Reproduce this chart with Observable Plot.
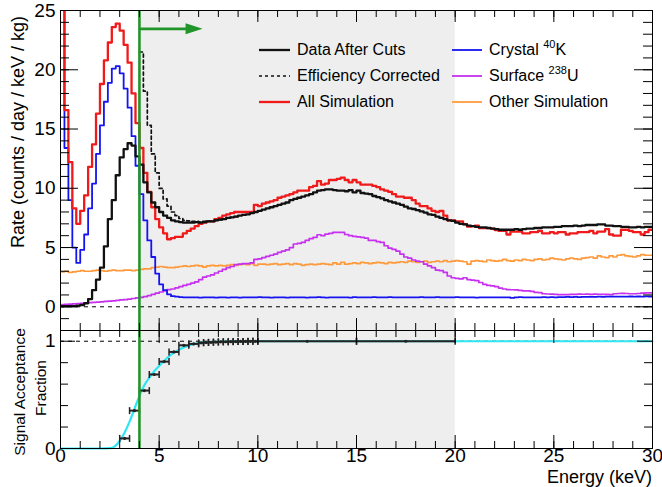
<!DOCTYPE html>
<html><head><meta charset="utf-8">
<script src="https://cdn.jsdelivr.net/npm/d3@7"></script>
<script src="https://cdn.jsdelivr.net/npm/@observablehq/plot@0.6"></script>
<style>
body{margin:0;background:#fff;font-family:"Liberation Sans",Arial,sans-serif;}
#wrap{position:relative;width:662px;height:487px;overflow:hidden;}
#wrap svg{display:block;}
.ov{position:absolute;color:#000;white-space:nowrap;line-height:1;}
.leg{position:absolute;display:flex;align-items:center;height:20px;font-size:16px;white-space:nowrap;}
.leg svg{margin-right:7px;}
.leg sup{font-size:11px;position:relative;top:-1px;vertical-align:super;line-height:0;}
.rot{transform:translate(-50%,-50%) rotate(-90deg);}
</style></head><body><div id="wrap"></div><script>
// ---------- data ----------
const binWidth = 0.2;            // keV per histogram bin (150 bins over 0-30 keV)
const energyRange = [0, 30];
const cutEnergy = 4;
const roiRange = [4, 20];
const rateDomain = [-2, 25];
const fracDomain = [0, 1.1];

const allSimulation = [
 40, 16.6, 12.2, 8.3, 7.0, 8.1, 9.4, 11.8, 13.7, 16.3,
 18.8, 20.8, 22.3, 23.6, 23.9, 23.3, 22.1, 20.6, 18.0, 15.5,
 13.4, 11.3, 9.7, 8.4, 7.4, 6.7, 6.2, 5.7, 5.8, 5.9,
 5.9, 6.2, 6.4, 6.6, 6.8, 7.0, 7.1, 7.2, 7.2, 7.4,
 7.5, 7.7, 7.8, 7.9, 8.0, 8.0, 8.0, 8.0, 8.0, 8.6,
 8.5, 8.7, 8.8, 8.9, 9.0, 9.2, 9.3, 9.4, 9.5, 9.65,
 9.8, 9.8, 9.8, 10.1, 10.2, 10.6, 10.3, 10.4, 10.7, 10.7,
 10.8, 10.9, 10.7, 10.5, 10.7, 10.5, 10.3, 10.3, 10.3, 10.2,
 10.1, 9.9, 9.8, 9.7, 9.5, 9.3, 9.3, 9.2, 9.2, 9.0,
 8.7, 8.5, 8.5, 8.3, 8.1, 8.0, 8.1, 7.7, 7.3, 7.3,
 7.2, 7.2, 6.98, 6.76, 6.8, 6.84, 6.64, 6.64, 6.64, 6.6,
 6.47, 6.4, 6.4, 6.1, 6.35, 6.35, 6.35, 6.2, 6.2, 6.3,
 6.3, 6.4, 6.2, 6.2, 6.3, 6.2, 6.3, 6.3, 6.1, 6.2,
 6.2, 6.3, 6.3, 6.3, 6.4, 6.2, 6.35, 6.35, 6.56, 6.1,
 6.0, 6.0, 6.5, 6.5, 6.4, 6.3, 6.3, 6.1, 6.3, 6.5
];
const dataAfterCuts = [
 0.05, 0.05, 0.05, 0.05, 0.1, 0.15, 0.3, 0.65, 1.4, 2.3,
 3.3, 5.1, 7.4, 9.0, 11.1, 12.6, 13.3, 13.8, 13.6, 12.7,
 12.0, 10.5, 9.65, 8.8, 8.4, 8.0, 7.7, 7.5, 7.3, 7.2,
 7.15, 7.1, 7.1, 7.1, 7.15, 7.1, 7.15, 7.2, 7.2, 7.3,
 7.35, 7.4, 7.5, 7.55, 7.6, 7.7, 7.75, 7.8, 7.9, 8.0,
 8.1, 8.2, 8.3, 8.4, 8.5, 8.6, 8.7, 8.8, 9.0, 9.1,
 9.2, 9.3, 9.4, 9.5, 9.65, 9.8, 9.85, 9.9, 9.9, 9.85,
 9.8, 9.8, 9.75, 9.85, 9.65, 9.8, 9.6, 9.55, 9.5, 9.35,
 9.25, 9.15, 9.0, 8.9, 8.8, 8.7, 8.6, 8.45, 8.3, 8.25,
 8.15, 8.05, 7.95, 7.8, 7.75, 7.6, 7.5, 7.4, 7.3, 7.25,
 7.1, 7.0, 6.95, 6.85, 6.8, 6.75, 6.7, 6.7, 6.65, 6.6,
 6.55, 6.5, 6.5, 6.5, 6.5, 6.55, 6.5, 6.55, 6.6, 6.6,
 6.65, 6.65, 6.7, 6.7, 6.7, 6.75, 6.75, 6.8, 6.8, 6.8,
 6.85, 6.8, 6.85, 6.9, 6.9, 6.9, 6.95, 6.95, 6.85, 6.85,
 6.8, 6.8, 6.75, 6.75, 6.7, 6.7, 6.75, 6.7, 6.75, 6.75
];
const effCorrectedStartBin = 20;
const efficiencyCorrected = [
 21.5, 18.2, 15.3, 12.9, 11.3, 10.0, 9.1, 8.5, 8.0, 7.7,
 7.45, 7.3, 7.25, 7.2, 7.2, 7.15, 7.2, 7.22, 7.22, 7.3,
 7.35, 7.4, 7.5, 7.55, 7.6
];
const crystalK40 = [
 40, 13.4, 9.0, 5.0, 3.7, 4.8, 6.1, 8.3, 10.4, 12.9,
 15.3, 17.3, 18.9, 20.1, 20.3, 19.7, 18.4, 16.8, 14.4, 11.9,
 9.5, 7.3, 5.6, 4.2, 2.8, 1.9, 1.4, 1.05, 0.9, 0.85,
 0.82, 0.8, 0.8, 0.79, 0.8, 0.78, 0.8, 0.79, 0.8, 0.78,
 0.79, 0.8, 0.78, 0.8, 0.79, 0.78, 0.8, 0.8, 0.79, 0.8,
 0.81, 0.79, 0.8, 0.78, 0.79, 0.8, 0.8, 0.78, 0.79, 0.8,
 0.79, 0.8, 0.78, 0.79, 0.8, 0.81, 0.79, 0.78, 0.8, 0.8,
 0.79, 0.8, 0.8, 0.78, 0.81, 0.8, 0.79, 0.8, 0.8, 0.82,
 0.8, 0.79, 0.8, 0.81, 0.8, 0.79, 0.8, 0.8, 0.79, 0.8,
 0.8, 0.82, 0.8, 0.79, 0.8, 0.81, 0.8, 0.79, 0.8, 0.8,
 0.81, 0.8, 0.79, 0.8, 0.8, 0.78, 0.8, 0.79, 0.8, 0.8,
 0.79, 0.8, 0.8, 0.79, 0.75, 0.8, 0.81, 0.8, 0.8, 0.79,
 0.8, 0.8, 0.81, 0.8, 0.82, 0.8, 0.81, 0.82, 0.83, 0.82,
 0.83, 0.82, 0.83, 0.84, 0.83, 0.84, 0.85, 0.84, 0.85, 0.86,
 0.85, 0.86, 0.85, 0.86, 0.87, 0.86, 0.87, 0.86, 0.88, 0.87
];
const surfaceU238 = [
 0.18, 0.2, 0.22, 0.25, 0.27, 0.3, 0.32, 0.35, 0.38, 0.4,
 0.42, 0.45, 0.48, 0.5, 0.55, 0.58, 0.6, 0.65, 0.7, 0.75,
 0.8, 0.85, 0.95, 1.05, 1.15, 1.25, 1.35, 1.45, 1.5, 1.6,
 1.7, 1.8, 1.9, 2.0, 2.1, 2.3, 2.5, 2.6, 2.7, 2.85,
 3.0, 3.15, 3.3, 3.4, 3.55, 3.6, 3.65, 3.65, 3.7, 4.0,
 4.05, 4.15, 4.25, 4.35, 4.45, 4.6, 4.7, 4.8, 5.0, 5.3,
 5.35, 5.43, 5.6, 5.75, 5.86, 6.08, 6.0, 6.14, 6.2, 6.28,
 6.28, 6.28, 6.1, 6.0, 5.95, 5.9, 5.86, 5.8, 5.6, 5.6,
 5.5, 5.43, 5.15, 4.95, 4.85, 4.7, 4.45, 4.2, 4.1, 3.95,
 3.85, 3.8, 3.6, 3.45, 3.3, 3.1, 3.05, 2.9, 2.6, 2.45,
 2.4, 2.35, 2.45, 2.3, 2.25, 2.2, 2.05, 1.9, 1.8, 1.77,
 1.7, 1.58, 1.5, 1.45, 1.44, 1.42, 1.38, 1.35, 1.35, 1.3,
 1.22, 1.2, 1.1, 1.08, 1.07, 1.05, 1.02, 1.02, 1.03, 1.05,
 1.05, 1.07, 1.06, 1.07, 1.05, 1.07, 1.06, 1.05, 1.04, 1.03,
 1.1, 1.12, 1.13, 1.12, 1.1, 1.1, 1.12, 1.15, 1.17, 1.18
];
const otherSimulation = [
 2.95, 3.0, 2.9, 2.95, 3.0, 3.05, 3.0, 3.0, 3.05, 3.1,
 3.05, 3.0, 3.05, 3.1, 3.05, 3.05, 3.1, 3.1, 3.05, 3.1,
 3.15, 3.2, 3.2, 3.3, 3.35, 3.4, 3.35, 3.3, 3.3, 3.35,
 3.4, 3.45, 3.4, 3.45, 3.5, 3.45, 3.35, 3.45, 3.5, 3.45,
 3.5, 3.45, 3.5, 3.55, 3.5, 3.55, 3.6, 3.55, 3.65, 3.5,
 3.6, 3.6, 3.55, 3.6, 3.65, 3.55, 3.6, 3.65, 3.55, 3.65,
 3.6, 3.5, 3.55, 3.6, 3.55, 3.6, 3.65, 3.6, 3.55, 3.7,
 3.6, 3.75, 3.6, 3.65, 3.7, 3.65, 3.75, 3.7, 3.65, 3.7,
 3.75, 3.7, 3.65, 3.75, 3.7, 3.75, 3.8, 3.75, 3.85, 3.8,
 3.75, 3.8, 3.85, 3.75, 3.8, 3.85, 3.8, 3.9, 3.8, 3.85,
 3.9, 3.85, 3.8, 3.6, 3.85, 3.9, 3.85, 3.8, 3.95, 3.9,
 3.85, 3.9, 4.0, 3.9, 3.85, 3.95, 3.9, 4.0, 3.95, 3.9,
 4.0, 4.05, 3.95, 4.0, 4.1, 4.05, 4.0, 3.95, 4.05, 4.1,
 4.05, 4.0, 4.1, 4.15, 4.2, 4.1, 4.3, 4.2, 4.15, 4.3,
 4.2, 4.35, 4.4, 4.3, 4.25, 4.2, 4.3, 4.4, 4.35, 4.35
];

// signal acceptance points (bin low edge, bin high edge, fraction)
const accLow   = [3, 3.5, 4, 4.5, 5, 5.5, 6, 6.5, 7, 7.25, 7.5, 7.75, 8, 8.25, 8.5, 8.75, 9, 9.25, 9.5, 9.75, 10, 15];
const accHigh  = [3.5, 4, 4.5, 5, 5.5, 6, 6.5, 7, 7.25, 7.5, 7.75, 8, 8.25, 8.5, 8.75, 9, 9.25, 9.5, 9.75, 10, 15, 20];
const accValue = [0.094, 0.353, 0.54, 0.69, 0.81, 0.90, 0.962, 0.975, 0.985, 0.988, 0.99, 0.992, 0.994, 0.995, 0.996, 0.997, 0.998, 0.998, 0.999, 0.999, 1.0, 1.0];
// fitted acceptance curve
const fitEnergy = [0, 2.0, 2.5, 2.75, 3.0, 3.25, 3.5, 3.75, 4.0, 4.25, 4.5, 4.75, 5.0, 5.5, 6.0, 6.5, 7.0, 8.0, 9.0, 10, 30];
const fitValue  = [0, 0, 0.003, 0.02, 0.07, 0.15, 0.25, 0.37, 0.49, 0.59, 0.66, 0.72, 0.77, 0.86, 0.92, 0.96, 0.984, 0.996, 1.0, 1.0, 1.0];

const rateTicksMajor = [0, 5, 10, 15, 20, 25];
const rateTicksMinor = d3.range(-2, 26);
const energyTicksMajor = [0, 5, 10, 15, 20, 25, 30];
const energyTicksMinor = d3.range(0, 31);
const fracTicksMajor = [0, 1];
const fracTicksMinor = [0.2, 0.4, 0.6, 0.8];
const cutArrow = {from: 4, to: 7.2, y: 23.45};

// ---------- drawing ----------
const W = 662, ML = 60, MR = 10;
const TOP_H = 330, TOP_MT = 10;
const BOT_H = 157, BOT_MB = 39;
const PW = W - ML - MR, TPH = TOP_H - TOP_MT, BPH = BOT_H - BOT_MB;
const C = {red: "#f01a1a", black: "#111111", blue: "#1414f0", mag: "#c630ee", orange: "#ff9a3c", green: "#22952a", cyan: "#2ee6f2", shade: "#eeeeee"};
const font = "'Liberation Sans', Arial, Helvetica, sans-serif";

function steps(values, startBin = 0) {
  const pts = values.map((v, i) => ({e: (startBin + i) * binWidth, v}));
  pts.push({e: (startBin + values.length) * binWidth, v: values[values.length - 1]});
  return pts;
}
const hist = (vals, stroke, w, extra = {}, start = 0) =>
  Plot.line(steps(vals, start), {x: "e", y: "v", curve: "step-after", stroke, strokeWidth: w, clip: true, ...extra});

function frameTicks(ph, xMin, xMaj, xMinLen, xMajLen, yMin, yMaj, yMinLen, yMajLen) {
  const s = {stroke: "#000", strokeWidth: 1};
  return [
    Plot.ruleX(xMin, {...s, insetTop: ph - xMinLen}),
    Plot.ruleX(xMin, {...s, insetBottom: ph - xMinLen}),
    Plot.ruleX(xMaj, {...s, insetTop: ph - xMajLen}),
    Plot.ruleX(xMaj, {...s, insetBottom: ph - xMajLen}),
    Plot.ruleY(yMin, {...s, insetRight: PW - yMinLen}),
    Plot.ruleY(yMin, {...s, insetLeft: PW - yMinLen}),
    Plot.ruleY(yMaj, {...s, insetRight: PW - yMajLen}),
    Plot.ruleY(yMaj, {...s, insetLeft: PW - yMajLen})
  ];
}

const arrowHead = {draw(ctx) { ctx.moveTo(0, 0); ctx.lineTo(-17, -5.5); ctx.lineTo(-17, 5.5); ctx.closePath(); }};
const capBar = {draw(ctx) { ctx.moveTo(0, -3.5); ctx.lineTo(0, 3.5); }};
const plainNum = d => String(d);

const topPlot = Plot.plot({
  width: W, height: TOP_H, marginLeft: ML, marginRight: MR, marginTop: TOP_MT, marginBottom: 0,
  style: {fontFamily: font, fontSize: "19px", color: "#000", background: "transparent", overflow: "visible"},
  x: {domain: energyRange, axis: null},
  y: {domain: rateDomain, ticks: rateTicksMajor, tickFormat: plainNum, tickSize: 0, tickPadding: 5, label: null},
  marks: [
    Plot.rect([roiRange], {x1: d => d[0], x2: d => d[1], fill: C.shade}),
    Plot.ruleY([0], {stroke: "#000", strokeWidth: 1, strokeDasharray: "4,4"}),
    hist(otherSimulation, C.orange, 1.7),
    hist(surfaceU238, C.mag, 1.7),
    hist(crystalK40, C.blue, 1.8),
    hist(allSimulation, C.red, 2.3),
    hist(dataAfterCuts, C.black, 2.3),
    hist(efficiencyCorrected, C.black, 1.7, {strokeDasharray: "3,3"}, effCorrectedStartBin),
    Plot.ruleX([cutEnergy], {stroke: C.green, strokeWidth: 2.6}),
    Plot.link([cutArrow], {x1: "from", x2: d => d.to - 0.5, y1: "y", y2: "y", stroke: C.green, strokeWidth: 2.6}),
    Plot.dot([cutArrow], {x: "to", y: "y", symbol: arrowHead, r: 6, fill: C.green, stroke: "none"}),
    ...frameTicks(TPH, energyTicksMinor, energyTicksMajor, 7, 12, rateTicksMinor, rateTicksMajor, 9, 18),
    Plot.frame({stroke: "#000", strokeWidth: 1})
  ]
});

const accPts = accLow.map((lo, i) => ({lo, hi: accHigh[i], v: accValue[i], c: (lo + accHigh[i]) / 2}));
const capPts = accPts.flatMap(d => [{x: d.lo, v: d.v}, {x: d.hi, v: d.v}]);
const fitPts = fitEnergy.map((e, i) => ({e, v: fitValue[i]}));

const botPlot = Plot.plot({
  width: W, height: BOT_H, marginLeft: ML, marginRight: MR, marginTop: 0, marginBottom: BOT_MB,
  style: {fontFamily: font, fontSize: "19px", color: "#000", background: "transparent", overflow: "visible"},
  x: {domain: energyRange, ticks: energyTicksMajor, tickFormat: plainNum, tickSize: 0, tickPadding: 0, label: null},
  y: {domain: fracDomain, ticks: fracTicksMajor, tickFormat: plainNum, tickSize: 0, tickPadding: 5, label: null},
  marks: [
    Plot.rect([roiRange], {x1: d => d[0], x2: d => d[1], fill: C.shade}),
    Plot.ruleY([1], {stroke: "#000", strokeWidth: 1, strokeDasharray: "4,4"}),
    Plot.line(fitPts, {x: "e", y: "v", curve: "monotone-x", stroke: C.cyan, strokeWidth: 2.2}),
    Plot.link(accPts, {x1: "lo", x2: "hi", y1: "v", y2: "v", stroke: "#222", strokeWidth: 2}),
    Plot.dot(capPts, {x: "x", y: "v", symbol: capBar, r: 3, stroke: "#222", strokeWidth: 1.5, fill: "none"}),
    Plot.dot(accPts, {x: "c", y: "v", r: 1.6, fill: "#222", stroke: "none"}),
    Plot.ruleX([cutEnergy], {stroke: C.green, strokeWidth: 2.6}),
    ...frameTicks(BPH, energyTicksMinor, energyTicksMajor, 7, 13, fracTicksMinor, fracTicksMajor, 8, 15),
    Plot.frame({stroke: "#000", strokeWidth: 1})
  ]
});

const wrap = document.getElementById("wrap");
wrap.appendChild(topPlot);
wrap.appendChild(botPlot);

// ---------- text overlays: axis titles and legend ----------
function ov(html, css, cls = "ov") {
  const d = document.createElement("div");
  d.className = cls; d.innerHTML = html; d.style.cssText = css;
  wrap.appendChild(d); return d;
}
ov("Rate (counts / day / keV / kg)", "left:18px;top:132px;font-size:18px;", "ov rot");
ov("Signal Acceptance", "left:20px;top:392px;font-size:15.5px;", "ov rot");
ov("Fraction", "left:41px;top:388px;font-size:15.5px;", "ov rot");
ov("Energy (keV)", "right:10px;top:468px;font-size:18px;");

const legendLeft = [
  {label: "Data After Cuts", color: C.black, dash: null, w: 2.3},
  {label: "Efficiency Corrected", color: C.black, dash: "3,3", w: 1.7},
  {label: "All Simulation", color: C.red, dash: null, w: 2.3}
];
const legendRight = [
  {label: "Crystal <sup>40</sup>K", color: C.blue, dash: null, w: 1.8},
  {label: "Surface <sup>238</sup>U", color: C.mag, dash: null, w: 1.8},
  {label: "Other Simulation", color: C.orange, dash: null, w: 1.8}
];
const rowY = [50, 76, 102];
function legendCol(items, left, swW) {
  items.forEach((it, i) => {
    const sw = `<svg width="${swW}" height="6"><line x1="0" x2="${swW}" y1="3" y2="3" stroke="${it.color}" stroke-width="${it.w}" ${it.dash ? `stroke-dasharray="${it.dash}"` : ""}/></svg>`;
    ov(sw + `<span>${it.label}</span>`, `left:${left}px;top:${rowY[i] - 10}px;`, "leg");
  });
}
legendCol(legendLeft, 259, 31);
legendCol(legendRight, 452, 30);
</script></body></html>
